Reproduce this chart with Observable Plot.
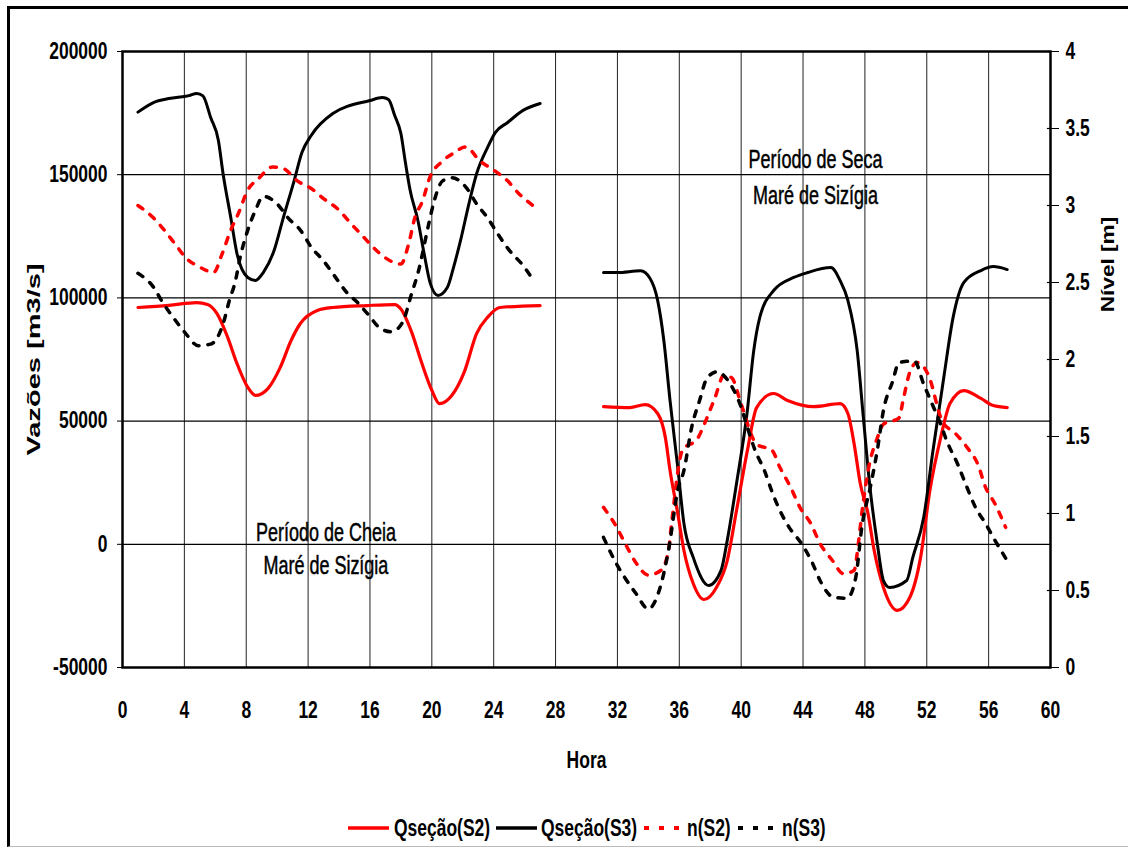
<!DOCTYPE html>
<html><head><meta charset="utf-8">
<script src="https://cdn.jsdelivr.net/npm/d3@7"></script>
<script src="https://cdn.jsdelivr.net/npm/@observablehq/plot@0.6"></script>
<style>
body{margin:0;background:#fff;}
#wrap{position:relative;width:1128px;height:849px;overflow:hidden;font-family:'Liberation Sans',Arial,sans-serif;}
#border{position:absolute;left:7px;top:6px;right:-10px;bottom:2px;border-top:3px solid #000;border-left:3px solid #000;border-bottom:1px solid #bbb;}
#chart{position:absolute;left:0;top:0;}
#legend{position:absolute;top:800px;left:0;}
</style></head>
<body>
<div id="wrap"><div id="border"></div><div id="chart"></div><div id="legend"></div></div>
<script>
// ---- data ----
const horaTicks = [0,4,8,12,16,20,24,28,32,36,40,44,48,52,56,60];
const vazaoTicks = [-50000,0,50000,100000,150000,200000];
const nivelTicks = [0,0.5,1,1.5,2,2.5,3,3.5,4];
const seriesNames = ["Qseção(S2)","Qseção(S3)","n(S2)","n(S3)"];

// Período de Cheia (hora, vazão m3/s)
const qS2_cheia = [[1,96100],[3,97000],[4.8,98100],[5.5,97300],[6.1,93700],[6.8,84000],[7.4,73400],[8.1,63700],[8.6,60400],[9.4,63200],[10.2,71800],[10.9,82700],[11.5,89600],[12.6,94900],[13.6,96100],[15.8,96900],[17.6,97300],[18,95500],[18.7,86000],[19.3,74500],[20,62500],[20.5,57100],[21.3,60500],[22.1,70000],[22.9,85600],[23.6,92100],[24.4,96100],[27,96900]];
const qS3_cheia = [[1,175400],[2,179300],[3,180900],[4.3,182100],[4.8,183000],[5.2,182000],[5.7,173200],[6.2,163900],[6.5,150500],[7,132600],[7.4,118000],[8.1,108300],[8.6,107100],[9.1,110300],[9.8,119200],[10.4,132600],[11.1,147600],[11.6,159000],[12.2,165900],[13.6,174800],[16,180100],[16.8,181300],[17.2,180500],[17.6,174000],[18,166700],[18.3,154600],[18.6,143600],[19.1,131400],[19.5,118000],[19.9,105900],[20.4,101000],[21,104200],[21.4,112300],[21.9,124500],[22.4,138300],[22.9,150500],[23.6,161000],[24.1,167100],[24.9,171200],[25.9,176100],[27,178900]];
// nível (m)
const nS2_cheia = [[1,3.0],[2,2.92],[2.7,2.84],[3.4,2.75],[4.1,2.66],[5,2.60],[5.9,2.565],[6.4,2.675],[7,2.84],[7.5,2.95],[8.1,3.10],[8.8,3.175],[9.7,3.25],[10.4,3.24],[11.3,3.16],[12.2,3.11],[13,3.045],[14,2.97],[14.7,2.89],[15.5,2.805],[16.2,2.73],[17,2.66],[18,2.62],[18.5,2.75],[18.9,2.92],[19.4,3.03],[19.9,3.19],[20.6,3.28],[21.4,3.34],[22.2,3.38],[23.1,3.29],[24,3.23],[24.9,3.16],[25.6,3.08],[26.4,3.01],[26.9,2.97]];
const nS3_cheia = [[1,2.56],[2,2.47],[2.6,2.37],[3.3,2.27],[4,2.18],[4.9,2.09],[5.7,2.10],[6.5,2.23],[6.9,2.38],[7.3,2.51],[7.6,2.66],[8.1,2.84],[8.6,2.97],[9.1,3.06],[10,3.01],[10.7,2.92],[11.5,2.84],[12.2,2.73],[13,2.64],[13.8,2.53],[14.5,2.435],[15.2,2.37],[15.9,2.29],[16.7,2.20],[17.4,2.18],[18.1,2.24],[18.7,2.43],[19.1,2.56],[19.8,2.88],[20.1,3.01],[20.7,3.16],[21.3,3.18],[22.2,3.12],[22.9,3.01],[23.6,2.92],[24.3,2.81],[25,2.71],[25.9,2.61],[26.6,2.51]];

// Período de Seca
const qS2_seca = [[31.1,55900],[32.8,55500],[33.8,56700],[34.6,53100],[35.1,43300],[35.4,30000],[35.9,12500],[36.3,-2500],[36.9,-15900],[37.6,-22400],[38.4,-17500],[39.1,-6600],[39.7,13700],[40.4,38000],[41.0,55500],[42.1,61200],[43.0,58400],[44.7,55900],[46.4,57100],[46.9,53100],[47.3,40900],[47.7,24700],[48.2,12500],[48.6,-2500],[49.2,-17500],[50.1,-26800],[50.9,-21600],[51.6,-5300],[52.2,21800],[52.9,43300],[53.5,57100],[54.4,62400],[55.5,59200],[56.3,56300],[57.2,55500]];
const qS3_seca = [[31.1,110300],[32,110300],[33.5,111000],[34.1,108000],[34.6,99000],[35,82700],[35.4,58400],[35.9,31200],[36.3,8400],[36.9,-5300],[37.9,-16700],[38.7,-10600],[39.1,1600],[39.7,24700],[40.4,54300],[40.8,78000],[41.2,92000],[42.1,103000],[43.4,108300],[44.3,110300],[45.8,112300],[46.4,107000],[46.9,99000],[47.5,78700],[47.9,51500],[48.3,24700],[48.8,400],[49.2,-14700],[49.6,-17500],[50.7,-14700],[51.1,-5300],[51.8,10900],[52.4,38000],[53.1,67700],[53.7,92000],[54.4,106300],[55.5,111100],[56.3,112700],[57.2,111500]];
const nS2_seca = [[31.1,1.04],[31.9,0.92],[32.5,0.805],[33.2,0.68],[34.0,0.60],[34.8,0.63],[35.3,0.76],[35.5,0.935],[36.2,1.41],[37.2,1.49],[37.7,1.60],[38.3,1.75],[38.9,1.90],[39.4,1.88],[40.0,1.71],[41.0,1.45],[42.0,1.41],[42.5,1.30],[43.2,1.17],[43.8,1.04],[44.5,0.935],[45.1,0.805],[45.9,0.695],[46.6,0.61],[47.3,0.63],[47.6,0.825],[47.8,1.0],[48.25,1.30],[48.8,1.49],[49.2,1.58],[50.2,1.62],[50.5,1.75],[50.95,1.93],[51.4,1.98],[52.1,1.90],[53.0,1.60],[53.85,1.52],[54.6,1.43],[55.3,1.32],[55.8,1.17],[56.4,1.065],[57.1,0.91]];
const nS3_seca = [[31.1,0.845],[31.9,0.68],[32.5,0.58],[33.2,0.48],[34.0,0.38],[34.7,0.50],[35.3,0.76],[35.9,1.15],[36.3,1.28],[36.8,1.56],[37.3,1.73],[37.8,1.88],[38.45,1.92],[39.3,1.84],[40.0,1.69],[40.4,1.56],[40.9,1.41],[41.5,1.28],[42.0,1.14],[42.5,1.02],[43.1,0.91],[43.9,0.805],[44.6,0.68],[45.1,0.565],[46.0,0.455],[46.85,0.45],[47.4,0.58],[47.8,0.91],[48.4,1.195],[48.8,1.41],[49.2,1.67],[49.8,1.86],[50.2,1.98],[51.2,1.99],[51.8,1.84],[52.35,1.71],[52.9,1.58],[53.3,1.47],[54.0,1.32],[54.5,1.195],[55.15,1.04],[55.8,0.935],[56.3,0.845],[57.1,0.71]];

const notas = [
  {t:44.8, q:155800, label:"Período de Seca"},
  {t:44.8, q:141500, label:"Maré de Sizígia"},
  {t:13.15, q:4400, label:"Período de Cheia"},
  {t:13.15, q:-9000, label:"Maré de Sizígia"}
];

// ---- build ----
const FN = "'Liberation Sans',Arial,sans-serif";
const toQ = n => -50000 + n * 62500;
const rows = (arr, periodo, nivel) => arr.map(([t, v]) => ({t, y: nivel ? toQ(v) : v, periodo}));
const qS2 = [...rows(qS2_cheia, "cheia"), ...rows(qS2_seca, "seca")];
const qS3 = [...rows(qS3_cheia, "cheia"), ...rows(qS3_seca, "seca")];
const nS2 = [...rows(nS2_cheia, "cheia", true), ...rows(nS2_seca, "seca", true)];
const nS3 = [...rows(nS3_cheia, "cheia", true), ...rows(nS3_seca, "seca", true)];

const chart = Plot.plot({
  width: 1128, height: 790,
  marginLeft: 122, marginRight: 78, marginTop: 51, marginBottom: 123,
  x: {domain: [0, 60]},
  y: {domain: [-50000, 200000]},
  style: {fontFamily: FN, fontWeight: "bold", background: "transparent", color: "#000", overflow: "visible"},
  marks: [
    Plot.gridX(horaTicks, {stroke: "#222", strokeOpacity: 1, strokeWidth: 1}),
    Plot.gridY(vazaoTicks, {stroke: "#000", strokeOpacity: 1, strokeWidth: 1.2}),
    Plot.line(qS2, {x: "t", y: "y", z: "periodo", stroke: "#ff0000", strokeWidth: 3.2, curve: "monotone-x"}),
    Plot.line(qS3, {x: "t", y: "y", z: "periodo", stroke: "#000", strokeWidth: 3, curve: "monotone-x"}),
    Plot.line(nS2, {x: "t", y: "y", z: "periodo", stroke: "#ff0000", strokeWidth: 3.5, strokeDasharray: "6,9", curve: "monotone-x"}),
    Plot.line(nS3, {x: "t", y: "y", z: "periodo", stroke: "#000", strokeWidth: 3.5, strokeDasharray: "6,9", curve: "monotone-x"}),
    Plot.frame({stroke: "#000", strokeWidth: 2.5}),
    Plot.axisY(vazaoTicks, {anchor: "left", tickSize: 5, tickPadding: 10, tickFormat: d => String(d), fontSize: 23, label: null}),
    Plot.axisY(nivelTicks.map(toQ), {anchor: "right", tickSize: 8, tickPadding: 7, tickFormat: v => String((v + 50000) / 62500), fontSize: 23, label: null}),
    Plot.ruleY(nivelTicks.map(toQ), {x1: 59.8, x2: 60, stroke: "#000", strokeWidth: 1.2}),
    Plot.axisX(horaTicks, {tickSize: 0, tickPadding: 34, fontSize: 23, label: null}),
    Plot.text(["Vazões [m3/s]"], {frameAnchor: "left", textAnchor: "middle", dx: -89, rotate: -90, fontSize: 19}),
    Plot.text(["Nível [m]"], {frameAnchor: "right", textAnchor: "middle", dx: 57, dy: -95, rotate: -90, fontSize: 19}),
    Plot.text(["Hora"], {frameAnchor: "bottom", lineAnchor: "middle", dy: 93, fontSize: 23}),
    Plot.text(notas, {x: "t", y: "q", text: "label", fontSize: 25, fontWeight: "normal", fill: "#000", stroke: "#000", strokeWidth: 0.5})
  ]
});
document.getElementById("chart").appendChild(chart);

// condensed look of the original: squeeze horizontal text, stretch rotated titles
const notaLabels = new Set(notas.map(d => d.label));
d3.select(chart).selectAll("text").each(function () {
  const el = this;
  const txt = el.textContent;
  let tr = el.getAttribute("transform");
  if (!tr) {
    const x = el.getAttribute("x") || 0, y = el.getAttribute("y") || 0;
    el.removeAttribute("x"); el.removeAttribute("y");
    tr = `translate(${x},${y})`;
  }
  let s;
  if (/rotate/.test(tr)) s = txt.startsWith("Vaz") ? "scale(1.53,1)" : "scale(1.19,1)";
  else if (notaLabels.has(txt)) s = "scale(0.72,1)";
  else s = "scale(0.76,1)";
  el.setAttribute("transform", tr + " " + s);
});

// legend
const legendItems = [
  {name: seriesNames[0], color: "#ff0000", dash: null, x1: 348, x2: 389, tx: 394},
  {name: seriesNames[1], color: "#000", dash: null, x1: 496, x2: 537, tx: 541},
  {name: seriesNames[2], color: "#ff0000", dash: "5,10", x1: 644, x2: 681, tx: 687},
  {name: seriesNames[3], color: "#000", dash: "5,10", x1: 738, x2: 775, tx: 782}
];
const ly = 28;
const lsvg = d3.select("#legend").append("svg").attr("width", 1128).attr("height", 49)
  .style("font-family", FN).style("font-weight", "bold").style("font-size", "23px");
const g = lsvg.selectAll("g").data(legendItems).join("g");
g.append("line").attr("x1", d => d.x1).attr("x2", d => d.x2).attr("y1", ly).attr("y2", ly)
  .attr("stroke", d => d.color).attr("stroke-width", d => d.dash ? 4 : 3.5)
  .attr("stroke-dasharray", d => d.dash);
g.append("text").attr("transform", d => `translate(${d.tx},${ly}) scale(0.76,1)`)
  .attr("dy", "0.35em").text(d => d.name);
</script>
</body></html>
